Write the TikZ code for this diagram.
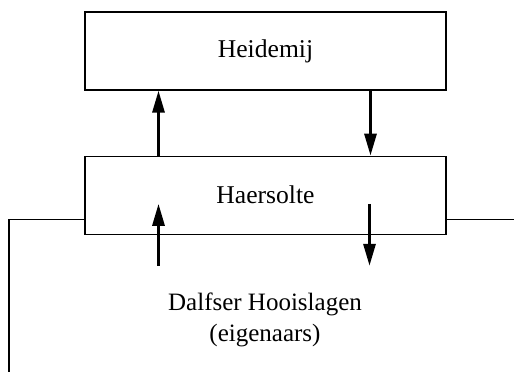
\documentclass[tikz,border=0pt]{standalone}
\usepackage{fontspec}
\setmainfont{Liberation Serif}
\usetikzlibrary{positioning,arrows.meta}

\tikzset{
	orgbox/.style={draw, line width=0.6pt, minimum width=180.5pt, minimum height=39pt, inner sep=0pt, font=\fontsize{12.8}{15}\selectfont},
	flow/.style={line width=1.5pt, -{Triangle[length=11pt,width=6pt]}},
	link/.style={line width=0.6pt}
}

\begin{document}
\begin{tikzpicture}[x=0.5pt, y=-0.5pt]
	\useasboundingbox (0,0) rectangle (514,372);
	\node[orgbox] (heidemij) at (265.5,51) {Heidemij};
	\node[orgbox, below=32.5pt of heidemij] (haersolte) {Haersolte};
	\node[font=\fontsize{12.5}{15.5}\selectfont, align=center] (eigenaars) at (265,320) {Dalfser Hooislagen\\(eigenaars)};
	% flows between the boxes
	\draw[flow] ([xshift=-53.5pt]haersolte.north) -- ([xshift=-53.5pt]heidemij.south);
	\draw[flow] ([xshift=52.5pt]heidemij.south) -- ([xshift=52.5pt]haersolte.north);
	% flows to and from the owners
	\coordinate (upfoot) at ([xshift=-53.5pt,yshift=-15.5pt]haersolte.south);
	\coordinate (downtip) at ([xshift=52pt,yshift=-15.5pt]haersolte.south);
	\draw[flow] (upfoot) -- ++(0,-62);
	\draw[flow] (downtip) ++(0,-62) -- (downtip);
	% side lines
	\draw[link] ([yshift=-12pt]haersolte.west) -| (9,372);
	\draw[link] ([yshift=-12pt]haersolte.east) -- ++(69,0);
\end{tikzpicture}
\end{document}
